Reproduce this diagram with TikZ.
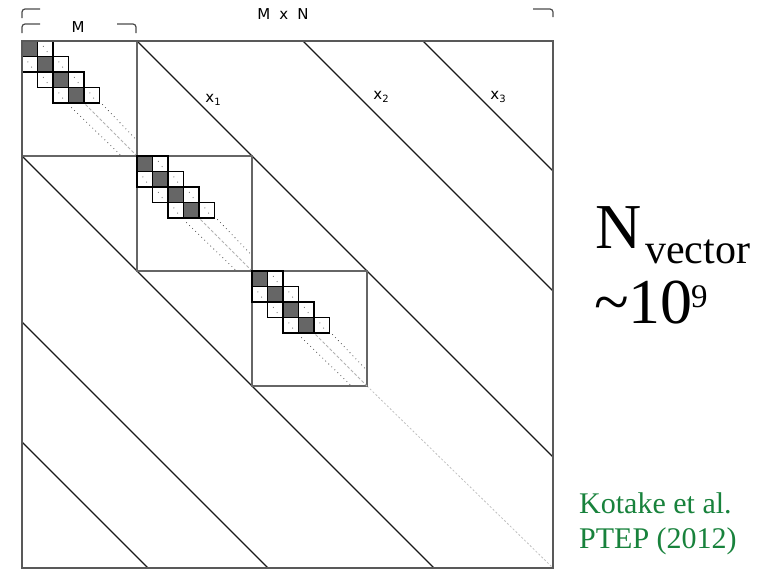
\documentclass[tikz,border=0pt]{standalone}
\usepackage{fontspec}
\setmainfont{Liberation Serif}
\newfontfamily\labfont{DejaVu Sans}
\newcommand{\band}[1]{x\raisebox{-0.35ex}{\fontsize{10}{11}\selectfont #1}}
\begin{document}
\begin{tikzpicture}[x=1pt,y=-1pt,
  frame/.style={draw=black!65,line width=1.5pt},
  blockframe/.style={draw=black!60,line width=1.3pt},
  diag/.style={draw=black!90,line width=1.2pt},
  cellbox/.style={draw=black,line width=1.3pt},
  darkcell/.style={cellbox,fill=black!60},
  lightcell/.style={cellbox,fill=white},
  dotline/.style={draw=black!70,line width=1.1pt,line cap=round,dash pattern=on 0pt off 4.2pt},
  midline/.style={draw=black!30,line width=0.9pt,dash pattern=on 3pt off 2pt},
  faint/.style={draw=black!25,line width=0.8pt,dash pattern=on 2pt off 2pt},
  bracket/.style={draw=black!70,line width=1.2pt,rounded corners=3pt},
  lab/.style={font=\labfont\fontsize{15}{17}\selectfont,inner sep=0pt},
  big/.style={font=\fontsize{64}{70}\selectfont,inner sep=0pt,anchor=base west},
  mid/.style={font=\fontsize{42}{46}\selectfont,inner sep=0pt,anchor=base west},
  sup/.style={font=\fontsize{33}{38}\selectfont,inner sep=0pt,anchor=base west},
  cite/.style={font=\fontsize{30}{34}\selectfont,inner sep=0pt,anchor=base west,text=citegreen}]
\definecolor{citegreen}{RGB}{24,130,60}
\useasboundingbox (0,0) rectangle (758,571);

% corner points of the matrix
\coordinate (TL) at (22,41);
\coordinate (TR) at (553,41);
\coordinate (BL) at (22,568);
\coordinate (BR) at (553,568);

% off-diagonal bands
\draw[diag] (137,41) -- (553,457);
\draw[diag] (303,41) -- (553,291);
\draw[diag] (423,41) -- (553,171);
\draw[diag] (22,156) -- (434,568);
\draw[diag] (22,322) -- (268,568);
\draw[diag] (22,442) -- (148,568);

% remaining main diagonal
\draw[faint] (367,386) -- (BR);

% diagonal blocks with tridiagonal cells
\def\c{15.5}
\foreach \bx/\by in {22/41,137/156,252/271}{
  \begin{scope}[shift={(\bx,\by)}]
    \fill[white] (0,0) rectangle (115,115);
    \draw[blockframe] (0,0) rectangle (115,115);
    % continuation of the three diagonals
    \draw[dotline] (3.2*\c,4.3*\c) -- (115-\c,115);
    \draw[midline] (4.1*\c,4.1*\c) -- (115,115);
    \draw[dotline] (5.2*\c,4.1*\c) -- (115,115-\c);
    % off-diagonal cells
    \foreach \col/\row in {1/0,0/1,2/1,1/2,3/2,2/3,4/3}{
      \draw[lightcell] (\col*\c,\row*\c) rectangle ++(\c,\c);
      \fill[black!55] (\col*\c+0.38*\c,\row*\c+0.35*\c) circle (0.6pt);
      \fill[black!55] (\col*\c+0.62*\c,\row*\c+0.68*\c) circle (0.6pt);
    }
    % diagonal cells
    \foreach \k in {0,1,2,3}{
      \draw[darkcell] (\k*\c,\k*\c) rectangle ++(\c,\c);
    }
  \end{scope}
}

% outer frame
\draw[frame] (TL) rectangle (BR);

% band labels
\node[lab] (x1) at (213,100) {\band{1}};
\node[lab] (x2) at (381,97) {\band{2}};
\node[lab] (x3) at (498,97) {\band{3}};

% size brackets
\draw[bracket] (22,18) -- (22,9) -- (40,9);
\draw[bracket] (533,9) -- (553,9) -- (553,17);
\node[lab] (mxn) at (283,14) {M\hspace{0.6em}x\hspace{0.6em}N};
\draw[bracket] (22,33) -- (22,24) -- (40,24);
\draw[bracket] (117,24) -- (136,24) -- (136,33);
\node[lab] (m) at (78,27) {M};

% vector count
\node[big] (nvec) at (595,248) {N};
\node[mid] (vsub) at (645,263) {vector};
\node[big] (pow) at (594,323) {\char"007E 10};
\node[sup] (exp) at (691,307) {9};

% reference
\node[cite] (ref1) at (579,513) {Kotake et al.};
\node[cite] (ref2) at (579,548) {PTEP (2012)};
\end{tikzpicture}
\end{document}
